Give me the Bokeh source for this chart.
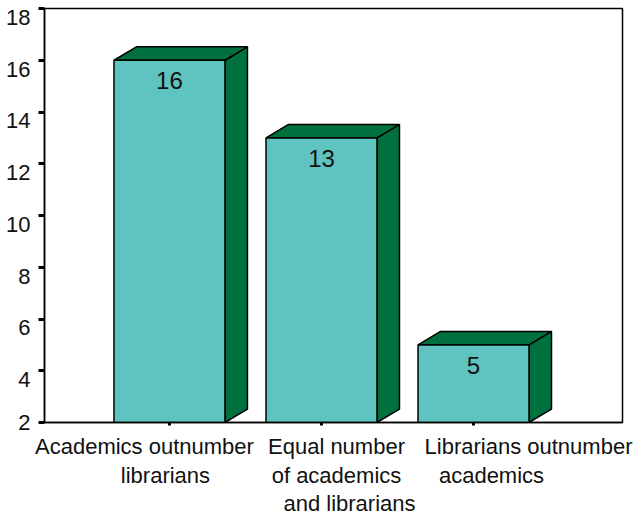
from bokeh.plotting import figure
from bokeh.models import Range1d, FixedTicker, LinearAxis
from bokeh.core.properties import value
from bokeh.embed import file_html
from bokeh.resources import INLINE

# Data
categories = [
    "Academics outnumber\nlibrarians",
    "Equal number\nof academics\nand librarians",
    "Librarians outnumber\nacademics",
]
counts = [16, 13, 5]
y_ticks = [2, 4, 6, 8, 10, 12, 14, 16, 18]

# Geometry of the pseudo-3D bars (data units)
positions = [1, 2, 3]
BASE = 2
BAR_W = 0.73
DX = 0.148
DY = 0.52

X0, X1 = 0.178, 3.98
Y0, Y1 = 2, 18
W, H = 635, 519
BORDER_L, BORDER_R, BORDER_T, BORDER_B = 44, 13, 8, 97
PX_PER_X = (W - BORDER_L - BORDER_R) / (X1 - X0)
PX_PER_Y = (H - BORDER_T - BORDER_B) / (Y1 - Y0)

# Horizontal nudges (px) of each category-label line, gaps between label rows,
# and downward nudges (px) of the value-axis labels
LINE_SHIFT = [[-25, -4], [15, 15, 28], [55, 18]]
ROW_STANDOFF = [8, 1, 0]
YLABEL_DROP = [0, 9, 9, 9, 9, 9, 9, 9, 9]

FRONT = "#5fc4c0"
SIDE = "#00703f"
FONT = "Liberation Sans"
INK = "#111111"

p = figure(
    width=W, height=H,
    x_range=Range1d(X0, X1), y_range=Range1d(Y0, Y1),
    output_backend="svg", toolbar_location=None,
    min_border_left=BORDER_L, min_border_right=BORDER_R,
    min_border_top=BORDER_T, min_border_bottom=BORDER_B,
)
p.background_fill_color = "white"
p.border_fill_color = "white"
p.outline_line_color = "black"
p.outline_line_width = 1.5
p.grid.visible = False

lefts = [x - BAR_W / 2 for x in positions]
rights = [x + BAR_W / 2 for x in positions]

# Right side faces
side_xs = [[r, r, r + DX, r + DX] for r in rights]
side_ys = [[BASE, v, v + DY, BASE + DY] for v in counts]
p.patches(side_xs, side_ys, fill_color=SIDE, line_color="black", line_width=1.5)

# Top faces
top_xs = [[l, r, r + DX, l + DX] for l, r in zip(lefts, rights)]
top_ys = [[v, v, v + DY, v + DY] for v in counts]
p.patches(top_xs, top_ys, fill_color=SIDE, line_color="black", line_width=1.5)

# Front faces
p.quad(left=lefts, right=rights, bottom=BASE, top=counts,
       fill_color=FRONT, line_color="black", line_width=1.5)

# Value labels inside the front faces
p.text(x=positions, y=counts, text=[str(c) for c in counts],
       text_align="center", text_baseline="top", y_offset=12,
       text_font=value(FONT), text_font_size="24px", text_color=INK)


def text_axis(ticker_vals, overrides, standoff):
    ax = LinearAxis(
        ticker=FixedTicker(ticks=ticker_vals),
        major_label_overrides=overrides,
        axis_line_color=None, major_tick_line_color=None, minor_tick_line_color=None,
        major_tick_in=0, major_tick_out=0,
        major_label_standoff=standoff,
        major_label_text_font=FONT, major_label_text_font_size="22px",
        major_label_text_color=INK,
    )
    return ax


# Main x axis: line and tick marks at the bar centres
xa = p.xaxis[0]
xa.ticker = FixedTicker(ticks=positions)
xa.major_label_overrides = {pos: "" for pos in positions}
xa.major_label_standoff = 0
xa.axis_line_color = "black"
xa.axis_line_width = 1.5
xa.major_tick_in = 0
xa.major_tick_out = 3
xa.major_tick_line_width = 3
xa.minor_tick_line_color = None

# Category labels: one stacked row of text per label line
split = [cat.split("\n") for cat in categories]
for row, standoff in enumerate(ROW_STANDOFF):
    ticks, labels = [], {}
    for pos, lines, shifts in zip(positions, split, LINE_SHIFT):
        if row < len(lines):
            t = round(pos + shifts[row] / PX_PER_X, 4)
            ticks.append(t)
            labels[t] = lines[row]
    p.add_layout(text_axis(ticks, labels, standoff), "below")

# Main y axis: line and tick marks
ya = p.yaxis[0]
ya.ticker = FixedTicker(ticks=y_ticks)
ya.major_label_overrides = {t: "" for t in y_ticks}
ya.major_label_standoff = 0
ya.axis_line_color = "black"
ya.axis_line_width = 1.5
ya.major_tick_in = 0
ya.major_tick_out = 6
ya.major_tick_line_width = 3
ya.minor_tick_line_color = None

# Y tick labels, sitting just under their tick marks
yl_ticks, yl_labels = [], {}
for t, drop in zip(y_ticks, YLABEL_DROP):
    v = round(t - drop / PX_PER_Y, 4)
    yl_ticks.append(v)
    yl_labels[v] = str(t)
p.add_layout(text_axis(yl_ticks, yl_labels, 8), "left")

open("out.html", "w").write(file_html(p, INLINE))
